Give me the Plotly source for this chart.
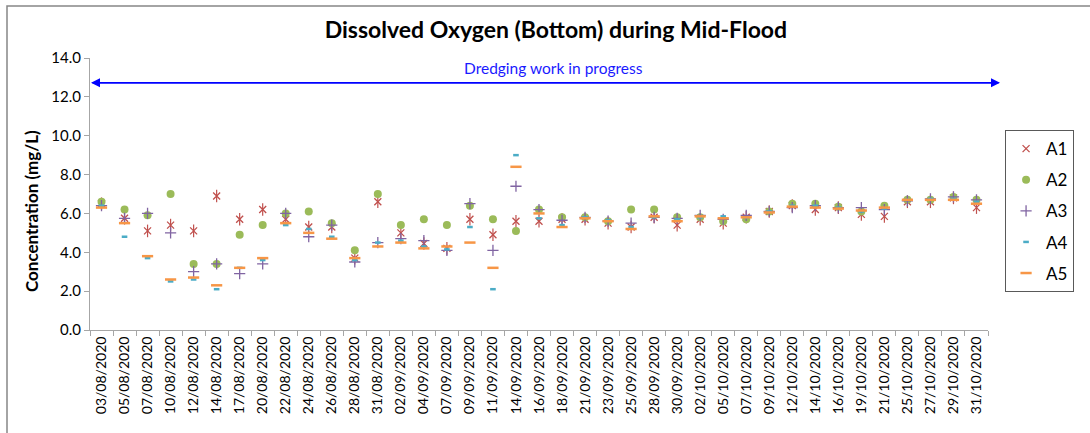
import plotly.graph_objects as go

dates = ["03/08/2020", "05/08/2020", "07/08/2020", "10/08/2020", "12/08/2020", "14/08/2020",
         "17/08/2020", "20/08/2020", "22/08/2020", "24/08/2020", "26/08/2020", "28/08/2020",
         "31/08/2020", "02/09/2020", "04/09/2020", "07/09/2020", "09/09/2020", "11/09/2020",
         "14/09/2020", "16/09/2020", "18/09/2020", "21/09/2020", "23/09/2020", "25/09/2020",
         "28/09/2020", "30/09/2020", "02/10/2020", "05/10/2020", "07/10/2020", "09/10/2020",
         "12/10/2020", "14/10/2020", "16/10/2020", "19/10/2020", "21/10/2020", "25/10/2020",
         "27/10/2020", "29/10/2020", "31/10/2020"]

A1 = [6.5, 5.75, 5.1, 5.4, 5.1, 6.9, 5.7, 6.2, 5.7, 5.3, 5.3, 3.7, 6.6, 5.0, 4.45, 4.2, 5.7, 4.9, 5.6,
      5.6, 5.7, 5.7, 5.5, 5.3, 5.8, 5.4, 5.7, 5.5, 5.8, 6.1, 6.4, 6.2, 6.3, 5.95, 5.85, 6.6, 6.6, 6.8, 6.3]
A2 = [6.6, 6.2, 5.9, 7.0, 3.4, 3.4, 4.9, 5.4, 6.0, 6.1, 5.5, 4.1, 7.0, 5.4, 5.7, 5.4, 6.4, 5.7, 5.1,
      6.2, 5.8, 5.8, 5.6, 6.2, 6.2, 5.8, 5.8, 5.6, 5.7, 6.1, 6.5, 6.5, 6.35, 6.1, 6.4, 6.7, 6.7, 6.85, 6.7]
A3 = [6.4, 5.75, 6.0, 5.0, 3.0, 3.4, 2.9, 3.4, 6.0, 4.8, 5.4, 3.5, 4.5, 4.7, 4.6, 4.1, 6.5, 4.1, 7.4,
      6.2, 5.65, 5.8, 5.6, 5.5, 5.8, 5.75, 5.9, 5.7, 5.9, 6.1, 6.3, 6.4, 6.3, 6.3, 6.2, 6.65, 6.75, 6.85, 6.7]
A4 = [6.4, 4.8, 3.7, 2.5, 2.6, 2.1, 3.2, 3.6, 5.4, 5.2, 4.8, 3.6, 4.5, 4.6, 4.3, 4.15, 5.3, 2.1, 9.0,
      5.75, 5.4, 5.8, 5.65, 5.3, 5.8, 5.7, 5.8, 5.85, 5.8, 6.1, 6.4, 6.4, 6.3, 6.1, 6.25, 6.7, 6.75, 6.75, 6.6]
A5 = [6.3, 5.5, 3.8, 2.6, 2.7, 2.3, 3.2, 3.7, 5.5, 5.0, 4.7, 3.7, 4.3, 4.5, 4.2, 4.3, 4.5, 3.2, 8.4,
      6.0, 5.3, 5.75, 5.6, 5.2, 5.85, 5.6, 5.85, 5.75, 5.8, 6.05, 6.35, 6.3, 6.25, 6.15, 6.3, 6.7, 6.7, 6.7, 6.5]

y_ticks = [0, 2, 4, 6, 8, 10, 12, 14]
title_text = "Dissolved Oxygen (Bottom) during Mid-Flood"
y_title = "Concentration (mg/L)"
note_text = "Dredging work in progress"
note_level = 12.73

FONT = "Lato, Calibri, Carlito, sans-serif"

fig = go.Figure()

# A1 : star marker (x + vertical bar)
fig.add_trace(go.Scatter(x=dates, y=A1, mode="markers", name="A1", legendgroup="A1",
                         marker=dict(symbol="x-thin-open", size=7, color="#C0504D",
                                     line=dict(width=1.3, color="#C0504D"))))
fig.add_trace(go.Scatter(x=dates, y=A1, mode="markers", name="A1", legendgroup="A1", showlegend=False,
                         hoverinfo="skip",
                         marker=dict(symbol="line-ns-open", size=9, color="#C0504D",
                                     line=dict(width=1.2, color="#C0504D"))))
fig.add_trace(go.Scatter(x=dates, y=A2, mode="markers", name="A2", legendgroup="A2",
                         marker=dict(symbol="circle", size=8, color="#9BBB59", line=dict(width=0))))
fig.add_trace(go.Scatter(x=dates, y=A3, mode="markers", name="A3", legendgroup="A3",
                         marker=dict(symbol="cross-thin-open", size=8, color="#8064A2",
                                     line=dict(width=1.3, color="#8064A2"))))
fig.add_trace(go.Scatter(x=dates, y=A4, mode="markers", name="A4", legendgroup="A4",
                         marker=dict(symbol="line-ew-open", size=4, color="#4BACC6",
                                     line=dict(width=2.5, color="#4BACC6"))))
fig.add_trace(go.Scatter(x=dates, y=A5, mode="markers", name="A5", legendgroup="A5",
                         marker=dict(symbol="line-ew-open", size=8, color="#F79646",
                                     line=dict(width=2.5, color="#F79646"))))

axis_col = "#A6A6A6"

fig.update_layout(
    width=1090, height=433,
    margin=dict(l=90, r=102, t=58, b=103),
    paper_bgcolor="white", plot_bgcolor="white",
    font=dict(family=FONT, color="#000000"),
    showlegend=True,
    legend=dict(x=1.019, y=0.735, xanchor="left", yanchor="top",
                bordercolor="#595959", borderwidth=1, bgcolor="white",
                font=dict(size=17, family=FONT, color="#000000"),
                tracegroupgap=6, itemwidth=30),
    title=dict(text="<b>" + title_text + "</b>", x=0.51, xanchor="center", y=0.93, yanchor="middle",
               font=dict(size=23, family=FONT, color="#000000")),
    xaxis=dict(type="category", range=[-0.5, len(dates) - 0.5], showgrid=False, zeroline=False,
               showline=True, linecolor=axis_col, linewidth=1,
               ticks="outside", tickson="boundaries", ticklen=5, tickcolor=axis_col,
               tickangle=-90, tickfont=dict(size=14, family=FONT, color="#000000")),
    yaxis=dict(range=[0, 14], tickvals=y_ticks, ticktext=[f"{v:.1f}" for v in y_ticks],
               showgrid=False, zeroline=False, showline=True, linecolor=axis_col, linewidth=1,
               ticks="outside", ticklen=5, tickcolor=axis_col,
               tickfont=dict(size=15, family=FONT, color="#000000")),
)

# y axis title placed as annotation
fig.add_annotation(text="<b>" + y_title + "</b>", xref="paper", yref="paper",
                   x=(31 - 90) / 898, y=(330 - 211) / 272, textangle=-90, showarrow=False,
                   font=dict(size=17, family=FONT, color="#000000"),
                   xanchor="center", yanchor="middle")

# dredging arrow (double headed)
x_left = 1 / 898
x_right = (1000 - 90) / 898
span_px = 909
fig.add_annotation(x=x_right, y=note_level, xref="paper", yref="y", ax=-span_px, ay=0,
                   axref="pixel", ayref="pixel", text="", showarrow=True,
                   arrowhead=2, arrowsize=1.2, arrowwidth=1.5, arrowcolor="#0000FF")
fig.add_annotation(x=x_left, y=note_level, xref="paper", yref="y", ax=span_px, ay=0,
                   axref="pixel", ayref="pixel", text="", showarrow=True,
                   arrowhead=2, arrowsize=1.2, arrowwidth=1.5, arrowcolor="#0000FF")
fig.add_annotation(x=(553 - 90) / 898, y=(330 - 68) / 272, xref="paper", yref="paper",
                   text=note_text, showarrow=False, xanchor="center", yanchor="middle",
                   font=dict(size=15.5, family=FONT, color="#1A1AFF"))

# outer chart border
fig.add_shape(type="rect", xref="paper", yref="paper",
              x0=(7 - 90) / 898, x1=(1095 - 90) / 898, y0=(330 - 440) / 272, y1=(330 - 6) / 272,
              line=dict(color="#868686", width=1.5), fillcolor="rgba(0,0,0,0)", layer="below")

fig.write_html("out.html", config={"displayModeBar": False},
               post_script="document.body.style.margin='0';document.body.style.overflow='hidden';")
